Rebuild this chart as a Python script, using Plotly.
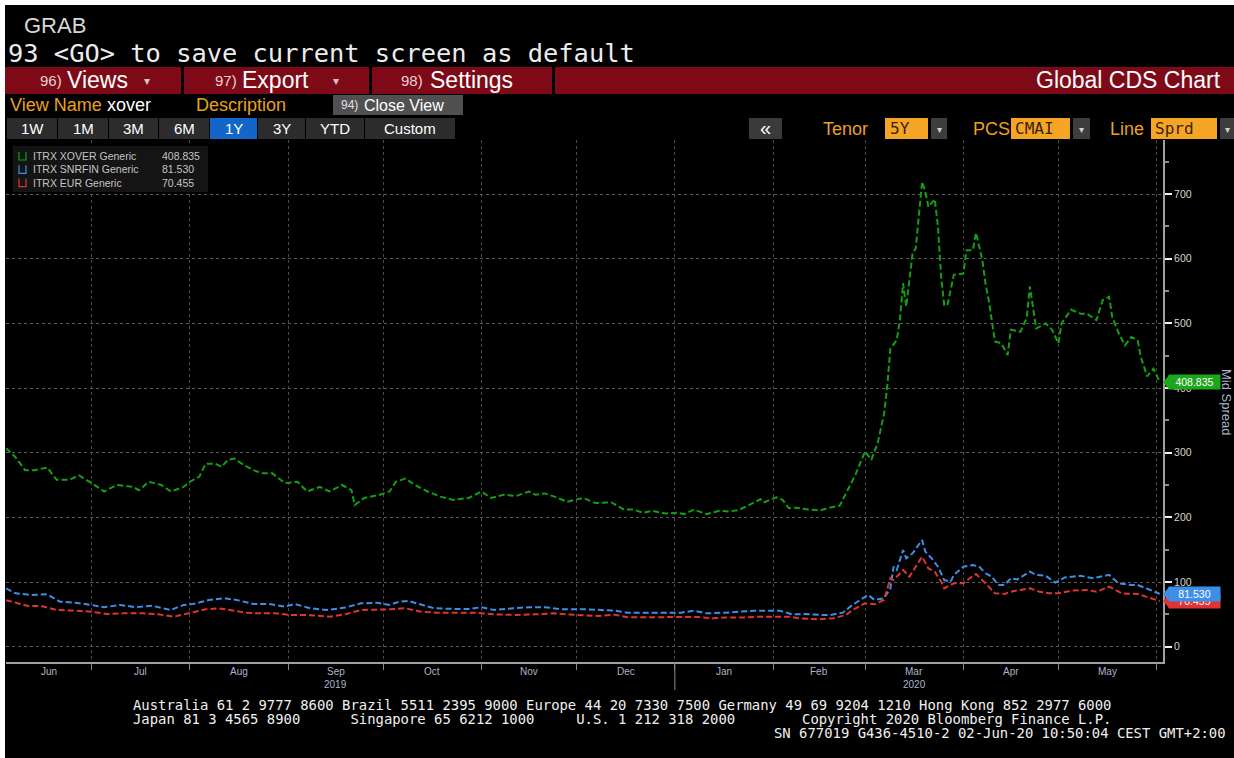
import pandas as pd
import plotly.graph_objects as go

# reference canvas is 1234x758 with a 5px white margin at top/left;
# the figure itself is placed at (5, 5)
OFF = 5
W, H = 1234 - OFF, 758 - OFF


def px(x):
    return (x - OFF) / W


def py(y):
    return 1 - (y - OFF) / H


# ---------------- data ----------------
xover_dates = [
    "2019-06-04", "2019-06-07", "2019-06-10", "2019-06-13", "2019-06-17", "2019-06-20", "2019-06-24",
    "2019-06-27", "2019-07-01", "2019-07-05", "2019-07-09", "2019-07-14", "2019-07-16", "2019-07-19",
    "2019-07-23", "2019-07-26", "2019-07-30", "2019-08-01", "2019-08-04", "2019-08-06", "2019-08-09",
    "2019-08-11", "2019-08-13", "2019-08-15", "2019-08-18", "2019-08-21", "2019-08-24", "2019-08-27",
    "2019-08-31", "2019-09-04", "2019-09-07", "2019-09-11", "2019-09-14", "2019-09-18", "2019-09-21",
    "2019-09-22", "2019-09-25", "2019-09-30", "2019-10-03", "2019-10-05", "2019-10-08", "2019-10-11",
    "2019-10-15", "2019-10-19", "2019-10-23", "2019-10-28", "2019-11-01", "2019-11-04", "2019-11-08",
    "2019-11-12", "2019-11-16", "2019-11-18", "2019-11-21", "2019-11-24", "2019-11-28", "2019-12-03",
    "2019-12-07", "2019-12-12", "2019-12-16", "2019-12-19", "2019-12-22", "2019-12-25", "2019-12-29",
    "2020-01-02", "2020-01-04", "2020-01-07", "2020-01-11", "2020-01-15", "2020-01-18", "2020-01-21",
    "2020-01-24", "2020-01-28", "2020-01-29", "2020-02-02", "2020-02-04", "2020-02-06", "2020-02-08",
    "2020-02-12", "2020-02-16", "2020-02-18", "2020-02-22", "2020-02-25", "2020-02-27", "2020-03-01",
    "2020-03-03", "2020-03-05", "2020-03-07", "2020-03-08", "2020-03-09", "2020-03-11", "2020-03-12",
    "2020-03-13", "2020-03-14", "2020-03-16", "2020-03-17", "2020-03-19", "2020-03-20", "2020-03-21",
    "2020-03-23", "2020-03-24", "2020-03-25", "2020-03-26", "2020-03-27", "2020-03-29", "2020-04-01",
    "2020-04-02", "2020-04-04", "2020-04-05", "2020-04-07", "2020-04-08", "2020-04-09", "2020-04-11",
    "2020-04-13", "2020-04-15", "2020-04-16", "2020-04-19", "2020-04-21", "2020-04-22", "2020-04-24",
    "2020-04-27", "2020-04-29", "2020-05-01", "2020-05-02", "2020-05-05", "2020-05-08", "2020-05-10",
    "2020-05-13", "2020-05-15", "2020-05-17", "2020-05-18", "2020-05-20", "2020-05-22", "2020-05-24",
    "2020-05-26", "2020-05-27", "2020-05-29", "2020-05-31", "2020-06-02",
]
xover_values = [
    307, 293, 273, 273, 277, 258, 258,
    265, 253, 240, 250, 247, 242, 255,
    250, 240, 247, 255, 263, 283, 283,
    278, 289, 291, 281, 273, 268, 268,
    253, 255, 240, 247, 240, 250, 242,
    219, 230, 235, 240, 255, 260, 250,
    240, 232, 227, 230, 240, 230, 235,
    233, 240, 235, 237, 232, 224, 230,
    222, 223, 212, 212, 207, 210, 206,
    207, 205, 212, 205, 210, 209, 211,
    218, 228, 223, 231, 227, 214, 215,
    212, 211, 214, 218, 247, 266, 302,
    289, 315, 360, 402, 461, 474, 505,
    562, 526, 608, 616, 719, 704, 680,
    692, 650, 572, 528, 528, 575, 577,
    613, 613, 640, 598, 562, 536, 472,
    469, 451, 490, 487, 508, 557, 492,
    500, 490, 469, 500, 521, 515, 515,
    505, 536, 541, 510, 485, 466, 479,
    474, 448, 418, 430, 408.835,
]

snrfin_dates = [
    "2019-06-04", "2019-06-07", "2019-06-12", "2019-06-17", "2019-06-21", "2019-06-26", "2019-07-01",
    "2019-07-05", "2019-07-10", "2019-07-15", "2019-07-20", "2019-07-26", "2019-07-30", "2019-08-02",
    "2019-08-07", "2019-08-12", "2019-08-16", "2019-08-21", "2019-08-26", "2019-08-31", "2019-09-03",
    "2019-09-08", "2019-09-13", "2019-09-19", "2019-09-24", "2019-09-29", "2019-10-03", "2019-10-06",
    "2019-10-09", "2019-10-13", "2019-10-17", "2019-10-23", "2019-10-28", "2019-11-01", "2019-11-05",
    "2019-11-11", "2019-11-16", "2019-11-21", "2019-11-26", "2019-12-03", "2019-12-10", "2019-12-13",
    "2019-12-17", "2019-12-22", "2019-12-28", "2020-01-03", "2020-01-07", "2020-01-11", "2020-01-17",
    "2020-01-23", "2020-01-26", "2020-01-31", "2020-02-03", "2020-02-07", "2020-02-11", "2020-02-16",
    "2020-02-19", "2020-02-23", "2020-02-26", "2020-03-02", "2020-03-04", "2020-03-07", "2020-03-09",
    "2020-03-10", "2020-03-11", "2020-03-13", "2020-03-14", "2020-03-16", "2020-03-19", "2020-03-20",
    "2020-03-22", "2020-03-24", "2020-03-26", "2020-03-28", "2020-03-29", "2020-04-01", "2020-04-04",
    "2020-04-06", "2020-04-08", "2020-04-10", "2020-04-12", "2020-04-14", "2020-04-16", "2020-04-18",
    "2020-04-22", "2020-04-24", "2020-04-27", "2020-04-30", "2020-05-03", "2020-05-08", "2020-05-12",
    "2020-05-17", "2020-05-20", "2020-05-24", "2020-05-26", "2020-05-30", "2020-06-02",
]
snrfin_values = [
    90.0, 82.5, 80.0, 81.0, 69.6, 68.0, 64.5,
    61.0, 64.5, 61.0, 63.4, 56.7, 64.5, 66.0,
    72.2, 74.8, 72.0, 66.0, 66.0, 62.0, 66.0,
    59.4, 56.7, 60.4, 67.0, 68.0, 64.5, 69.6,
    70.6, 64.5, 59.4, 58.4, 58.4, 61.0, 56.7,
    59.4, 61.0, 61.0, 58.0, 58.0, 56.7, 55.7,
    52.6, 52.6, 53.6, 52.6, 55.7, 51.5, 52.6,
    54.0, 55.7, 55.7, 55.7, 50.0, 50.5, 49.0,
    49.0, 52.6, 64.5, 80.0, 72.2, 74.8, 90.3,
    123.7, 118.6, 149.5, 136.7, 144.4, 165.0, 147.0,
    136.7, 123.7, 103.0, 100.5, 110.9, 123.7, 126.3,
    123.7, 113.5, 108.2, 95.4, 95.4, 105.8, 104.0,
    116.0, 111.0, 109.5, 99.0, 107.0, 109.5, 105.8,
    111.0, 98.0, 95.4, 95.4, 87.7, 81.53,
]

eur_dates = [
    "2019-06-04", "2019-06-07", "2019-06-11", "2019-06-15", "2019-06-20", "2019-06-26", "2019-07-01",
    "2019-07-06", "2019-07-11", "2019-07-17", "2019-07-22", "2019-07-27", "2019-08-01", "2019-08-06",
    "2019-08-10", "2019-08-14", "2019-08-19", "2019-08-23", "2019-08-28", "2019-09-02", "2019-09-07",
    "2019-09-14", "2019-09-19", "2019-09-24", "2019-09-30", "2019-10-03", "2019-10-08", "2019-10-13",
    "2019-10-18", "2019-10-24", "2019-10-30", "2019-11-05", "2019-11-12", "2019-11-18", "2019-11-24",
    "2019-12-01", "2019-12-08", "2019-12-13", "2019-12-17", "2019-12-23", "2019-12-29", "2020-01-04",
    "2020-01-08", "2020-01-13", "2020-01-17", "2020-01-23", "2020-01-28", "2020-02-02", "2020-02-06",
    "2020-02-09", "2020-02-15", "2020-02-20", "2020-02-24", "2020-02-26", "2020-03-01", "2020-03-04",
    "2020-03-07", "2020-03-09", "2020-03-10", "2020-03-13", "2020-03-15", "2020-03-17", "2020-03-19",
    "2020-03-21", "2020-03-23", "2020-03-25", "2020-03-26", "2020-03-29", "2020-04-01", "2020-04-03",
    "2020-04-05", "2020-04-08", "2020-04-11", "2020-04-14", "2020-04-16", "2020-04-19", "2020-04-22",
    "2020-04-25", "2020-04-28", "2020-05-01", "2020-05-05", "2020-05-10", "2020-05-13", "2020-05-17",
    "2020-05-21", "2020-05-26", "2020-05-31", "2020-06-02",
]
eur_values = [
    72.0, 68.0, 63.0, 63.0, 56.7, 55.7, 54.0,
    50.5, 51.5, 51.5, 50.0, 46.4, 52.5, 57.7,
    59.4, 56.7, 52.5, 51.5, 51.5, 49.0, 49.0,
    46.4, 50.0, 56.7, 56.7, 57.7, 59.4, 54.0,
    52.5, 52.5, 52.5, 50.0, 49.0, 50.0, 51.5,
    49.0, 47.4, 49.5, 45.5, 45.5, 45.5, 45.5,
    46.0, 43.9, 45.0, 45.0, 46.4, 46.4, 46.4,
    43.9, 42.3, 43.9, 49.0, 56.7, 67.0, 65.5,
    72.2, 105.8, 103.0, 118.6, 108.2, 123.7, 139.0,
    121.0, 116.0, 100.5, 90.3, 98.0, 98.0, 105.8,
    112.4, 98.0, 82.5, 81.5, 85.0, 87.7, 90.3,
    85.0, 82.5, 82.5, 86.6, 87.7, 85.0, 92.8,
    82.5, 81.5, 73.3, 70.455,
]

series_names = ["ITRX XOVER Generic", "ITRX SNRFIN Generic", "ITRX EUR Generic"]
series_last = ["408.835", "81.530", "70.455"]
series_colors = ["#12a012", "#3d8ee6", "#e03434"]

month_starts = ["2019-07-01", "2019-08-01", "2019-09-01", "2019-10-01", "2019-11-01", "2019-12-01",
                "2020-01-01", "2020-02-01", "2020-03-01", "2020-04-01", "2020-05-01", "2020-06-01"]
month_labels = ["Jun", "Jul", "Aug", "Sep", "Oct", "Nov", "Dec", "Jan", "Feb", "Mar", "Apr", "May"]
year_labels = {"2019": "Sep", "2020": "Mar"}

y_ticks = [0, 100, 200, 300, 400, 500, 600, 700]
y_minor = [50, 150, 250, 350, 450, 550, 650, 750]

x_range = ["2019-06-04", "2020-06-03"]
y_range = [-23.7, 783.5]

assert len(xover_dates) == len(xover_values)
assert len(snrfin_dates) == len(snrfin_values)
assert len(eur_dates) == len(eur_values)

# ---------------- figure ----------------
fig = go.Figure()
series = [(xover_dates, xover_values), (snrfin_dates, snrfin_values), (eur_dates, eur_values)]
for (d, v), name, col in zip(series, series_names, series_colors):
    fig.add_trace(go.Scatter(x=d, y=v, mode="lines", name=name, showlegend=False,
                             hoverinfo="skip",
                             line=dict(color=col, width=2, dash="6px,3px")))

edges = [pd.Timestamp(x_range[0])] + [pd.Timestamp(m) for m in month_starts]
mids = [a + (b - a) / 2 for a, b in zip(edges[:-1], edges[1:])]

shapes = []
ann = []

SANS = "Liberation Sans"
NARROW = "Liberation Sans Narrow, Liberation Sans"
MONO = "DejaVu Sans Mono"


def rect(x0, y0, x1, y1, fill, layer="below"):
    shapes.append(dict(type="rect", xref="paper", yref="paper",
                       x0=px(x0), x1=px(x1), y0=py(y1), y1=py(y0),
                       fillcolor=fill, line=dict(width=0), layer=layer))


def text(x, y, s, size, color, family=SANS, xanchor="left", **kw):
    ann.append(dict(x=px(x), y=py(y), xref="paper", yref="paper", text=s, showarrow=False,
                    xanchor=xanchor, yanchor="middle",
                    font=dict(family=family, size=size, color=color), **kw))


# title lines
text(22, 26, "GRAB", 22, "#d6d6d6")
text(6, 53, "93 &lt;GO&gt; to save current screen as default", 25.4, "#ececec", family=MONO)

# red menu bar
RED = "#7e0a18"
rect(5, 67, 181, 94, RED)
rect(184, 67, 369, 94, RED)
rect(372, 67, 552, 94, RED)
rect(555, 67, 1234, 94, RED)
text(38, 80, "96)", 15, "#ecd0d0", family=NARROW)
text(65, 80, "Views", 23, "#ffffff")
text(142, 81, "▾", 12, "#e0c0c0")
text(213, 80, "97)", 15, "#ecd0d0", family=NARROW)
text(240, 80, "Export", 23, "#ffffff")
text(331, 81, "▾", 12, "#e0c0c0")
text(399, 80, "98)", 15, "#ecd0d0", family=NARROW)
text(428, 80, "Settings", 23, "#ffffff")
text(1223, 80, "Global CDS Chart", 23, "#ffffff", xanchor="right")

# view name row
ORANGE = "#eaa21e"
text(8, 105, "View Name", 18, ORANGE)
text(105, 105, "xover", 18, "#ffffff")
text(194, 105, "Description", 18, ORANGE)
rect(333, 95, 463, 115, "#505050")
text(339, 105, "94)", 12, "#e0e0e0", family=NARROW)
text(362, 105, "Close View", 16, "#ffffff")

# period buttons
buttons = [("1W", 7, 57), ("1M", 58, 108), ("3M", 109, 158), ("6M", 159, 209), ("1Y", 210, 257),
           ("3Y", 258, 305), ("YTD", 306, 364), ("Custom", 365, 455)]
for lab, x0, x1 in buttons:
    rect(x0, 118, x1, 139, "#1366c8" if lab == "1Y" else "#2c2c2c")
    text((x0 + x1) / 2, 129, lab, 15, "#ffffff", xanchor="center", family=NARROW)

# right controls
rect(749, 118, 782, 139, "#3a3a3a")
text(765, 128, "«", 20, "#ffffff", xanchor="center")
text(821, 129, "Tenor", 18, ORANGE)
rect(885, 118, 928, 139, "#f5a526")
text(888, 129, "5Y", 16, "#3a2200", family=MONO)
rect(931, 118, 947, 139, "#3d3d3d")
text(939, 130, "▾", 10, "#d0d0d0", xanchor="center")
text(971, 129, "PCS", 18, ORANGE)
rect(1011, 118, 1070, 139, "#f5a526")
text(1013, 129, "CMAI", 16, "#3a2200", family=MONO)
rect(1073, 118, 1090, 139, "#3d3d3d")
text(1081, 130, "▾", 10, "#d0d0d0", xanchor="center")
text(1108, 129, "Line", 18, ORANGE)
rect(1151, 118, 1217, 139, "#f5a526")
text(1153, 129, "Sprd", 16, "#3a2200", family=MONO)
rect(1220, 118, 1234, 139, "#3d3d3d")
text(1227, 130, "▾", 10, "#d0d0d0", xanchor="center")

# legend box (drawn inside the plot area)
rect(13, 146, 208, 192, "#141414", layer="above")
for i, (name, last, col) in enumerate(zip(series_names, series_last, series_colors)):
    yy = 156 + i * 13.3
    shapes.append(dict(type="path", xref="paper", yref="paper", layer="above",
                       path=f"M {px(19)},{py(yy - 4)} L {px(19)},{py(yy + 4)} L {px(26)},{py(yy + 4)} L {px(26)},{py(yy - 4)}",
                       line=dict(color=col, width=1.2)))
    text(31, yy, name, 10.5, "#c4c4c4")
    text(160, yy, last, 10.5, "#c4c4c4")

# month / year labels
for m, lab in zip(mids, month_labels):
    ann.append(dict(x=m, y=py(671), xref="x", yref="paper", text=lab, showarrow=False,
                    xanchor="center", yanchor="middle",
                    font=dict(family=SANS, size=10, color="#aab4cf")))
for yr, mon in year_labels.items():
    m = mids[month_labels.index(mon)]
    ann.append(dict(x=m, y=py(684), xref="x", yref="paper", text=yr, showarrow=False,
                    xanchor="center", yanchor="middle",
                    font=dict(family=SANS, size=10, color="#aab4cf")))
shapes.append(dict(type="line", xref="x", yref="paper", x0="2020-01-01", x1="2020-01-01",
                   y0=py(690), y1=py(662), line=dict(color="#8a8a8a", width=1)))

# axis title
text(1227, 402, "Mid Spread", 13, "#a9b4c8", xanchor="center", textangle=90)

# last value tags
px_per_unit = (662 - 140) / (y_range[1] - y_range[0])
half = 7 / px_per_unit
tag_colors = {"#12a012": "#1ea51e", "#3d8ee6": "#3d8ee6", "#e03434": "#e03434"}
order = [0, 2, 1]  # red drawn before blue so blue overlaps it
for i in order:
    v = float(series_last[i])
    col = tag_colors[series_colors[i]]
    shapes.append(dict(type="path", xref="paper", yref="y", layer="above",
                       path=f"M {px(1163)},{v} L {px(1169)},{v + half} L {px(1169)},{v - half} Z",
                       fillcolor=col, line=dict(width=0)))
    ann.append(dict(x=px(1168), y=v, xref="paper", yref="y", text=series_last[i], showarrow=False,
                    xanchor="left", yanchor="middle", bgcolor=col, borderpad=1, width=49,
                    align="center", font=dict(family=SANS, size=10.5, color="#ffffff")))

# footer
NB = "\u00a0"
line1 = "Australia 61 2 9777 8600 Brazil 5511 2395 9000 Europe 44 20 7330 7500 Germany 49 69 9204 1210 Hong Kong 852 2977 6000"
line2 = ("Japan 81 3 4565 8900" + " " * 6 + "Singapore 65 6212 1000" + " " * 5 + "U.S. 1 212 318 2000"
         + " " * 8 + "Copyright 2020 Bloomberg Finance L.P.")
line3 = "SN 677019 G436-4510-2 02-Jun-20 10:50:04 CEST GMT+2:00"
text(131, 705, line1.replace(" ", NB), 13.9, "#f0f0f0", family=MONO)
text(131, 719, line2.replace(" ", NB), 13.9, "#f0f0f0", family=MONO)
text(1228, 733, line3.replace(" ", NB), 13.9, "#f0f0f0", family=MONO, xanchor="right")

fig.update_layout(
    width=W, height=H,
    paper_bgcolor="#000000", plot_bgcolor="#000000",
    margin=dict(l=0, r=0, t=0, b=0),
    showlegend=False,
    shapes=shapes, annotations=ann,
    xaxis=dict(type="date", range=x_range, domain=[px(6), px(1163)],
               tickvals=month_starts, showticklabels=False,
               ticks="outside", ticklen=6, tickwidth=1, tickcolor="#8a8a8a",
               showgrid=True, gridcolor="#4a4a4a", griddash="dot", gridwidth=1,
               showline=True, linecolor="#a0a0a0", linewidth=2, zeroline=False),
    yaxis=dict(range=y_range, domain=[py(662), py(140)], side="right",
               tickvals=y_ticks, ticktext=[str(t) for t in y_ticks],
               ticks="outside", ticklen=7, tickwidth=2, tickcolor="#f0f0f0",
               tickfont=dict(family=SANS, size=10.5, color="#dcd3c3"),
               showgrid=True, gridcolor="#5a5a5a", griddash="dot", gridwidth=1,
               showline=True, linecolor="#a0a0a0", linewidth=2, zeroline=False,
               minor=dict(tickvals=y_minor, ticks="outside", ticklen=4, tickcolor="#8a8a8a",
                          showgrid=False)),
)

fig.write_html("out.html",
               post_script="document.body.style.margin='5px 0 0 5px';"
                           "document.body.style.background='#ffffff';"
                           "document.body.style.overflow='hidden';")
